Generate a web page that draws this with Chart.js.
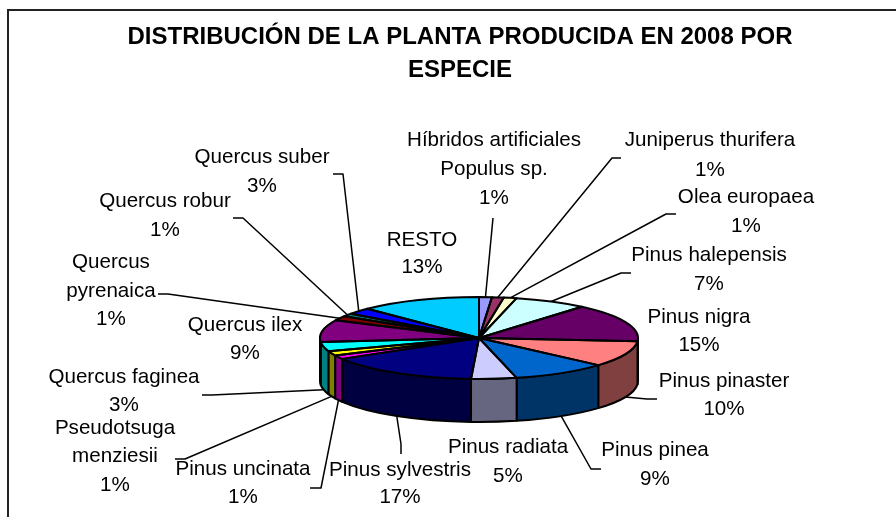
<!DOCTYPE html>
<html>
<head>
<meta charset="utf-8">
<title>Distribución de la planta producida en 2008 por especie</title>
<script src="https://cdn.jsdelivr.net/npm/chart.js@4/dist/chart.umd.js"></script>
<style>
    html, body { margin: 0; padding: 0; background: #fff; overflow: hidden; }
    canvas { display: block; }
</style>
</head>
<body>
<canvas id="chart" width="896" height="517"></canvas>
<script>
// Data, clockwise from the top of the pie

const categories = ["Híbridos artificiales Populus sp.", "Juniperus thurifera", "Olea europaea",
    "Pinus halepensis", "Pinus nigra", "Pinus pinaster", "Pinus pinea", "Pinus radiata",
    "Pinus sylvestris", "Pinus uncinata", "Pseudotsuga menziesii", "Quercus faginea",
    "Quercus ilex", "Quercus pyrenaica", "Quercus robur", "Quercus suber", "RESTO"];

// slice sizes as measured on the picture
const values = [1.3, 1.2, 1.3, 7.4, 15.1, 10.2, 9.7, 4.6, 15.7, 1.5, 1.8, 3.6, 8.7, 1.8, 1.2, 2.5, 12.4];

// percentages as printed on the labels
const percentLabels = ["1%", "1%", "1%", "7%", "15%", "10%", "9%", "5%", "17%", "1%", "1%", "3%", "9%", "1%", "1%", "3%", "13%"];

const faceColors = ["#9999FF", "#993366", "#FFFFCC", "#CCFFFF", "#660066", "#FF8080", "#0066CC", "#CCCCFF",
    "#000080", "#FF00FF", "#FFFF00", "#00FFFF", "#800080", "#800000", "#008080", "#0000FF", "#00CCFF"];

const sideColors = ["#4C4C80", "#4C1933", "#808066", "#668080", "#330033", "#804040", "#003366", "#666680",
    "#000040", "#800080", "#808000", "#008080", "#400040", "#400000", "#004040", "#000080", "#006680"];

const titleLines = ["DISTRIBUCIÓN DE LA PLANTA PRODUCIDA EN 2008 POR", "ESPECIE"];

// Layout of the labels: wrapped text, centre x, y of each line, leader line from the label side
const labelLayout = [
    { lines: ["Híbridos artificiales", "Populus sp."], x: 494, y: [140, 169, 198], leader: [[493, 218]] },
    { lines: ["Juniperus thurifera"], x: 710, y: [140, 170], leader: [[621, 158], [612, 158]] },
    { lines: ["Olea europaea"], x: 746, y: [197, 226], leader: [[676, 214], [666, 214]] },
    { lines: ["Pinus halepensis"], x: 709, y: [255, 284], leader: [[631, 273], [621, 273]] },
    { lines: ["Pinus nigra"], x: 699, y: [317, 345], leader: [] },
    { lines: ["Pinus pinaster"], x: 724, y: [381, 409], leader: [[657, 399], [647, 399]] },
    { lines: ["Pinus pinea"], x: 655, y: [450, 479], leader: [[601, 469], [591, 469]] },
    { lines: ["Pinus radiata"], x: 508, y: [447, 476], leader: [] },
    { lines: ["Pinus sylvestris"], x: 400, y: [470, 497], leader: [[401, 454], [401, 444]] },
    { lines: ["Pinus uncinata"], x: 243, y: [469, 497], leader: [[310, 488], [321, 488]] },
    { lines: ["Pseudotsuga", "menziesii"], x: 115, y: [428, 456, 485], leader: [[175, 459], [185, 459]] },
    { lines: ["Quercus faginea"], x: 124, y: [377, 405], leader: [[202, 395], [212, 395]] },
    { lines: ["Quercus ilex"], x: 245, y: [325, 353], leader: [] },
    { lines: ["Quercus", "pyrenaica"], x: 111, y: [262, 291, 319], leader: [[158, 294], [168, 294]] },
    { lines: ["Quercus robur"], x: 165, y: [201, 230], leader: [[233, 218], [243, 218]] },
    { lines: ["Quercus suber"], x: 262, y: [157, 186], leader: [[333, 174], [343, 174]] },
    { lines: ["RESTO"], x: 422, y: [240, 267], leader: [] }
];

const pieBox = { cx: 479, cy: 338, rx: 159, ry: 41, depth: 43 };
const OUTLINE = "#000";

// Draws the library's pie squashed into an ellipse, with walls, outlines, leaders and labels
const pie3d = {
    id: 'pie3d',

    afterLayout(chart) {
        // the title sits a little right of the canvas centre
        chart.titleBlock.right = 920;
    },

    beforeDraw(chart) {
        let ctx = chart.ctx;
        ctx.save();
        ctx.strokeStyle = "#222";
        ctx.lineWidth = 2;
        ctx.beginPath();
        ctx.moveTo(8, 517);
        ctx.lineTo(8, 10);
        ctx.lineTo(896, 10);
        ctx.stroke();
        ctx.restore();
    },

    beforeDatasetsDraw(chart) {
        let ctx = chart.ctx;
        let arcs = chart.getDatasetMeta(0).data;

        // walls, only the front half of the rim shows
        ctx.save();
        ctx.strokeStyle = OUTLINE;
        ctx.lineWidth = 2;
        ctx.lineJoin = 'round';
        arcs.forEach(function(arc, i) {
            let a = Math.max(arc.startAngle, 0);
            let b = Math.min(arc.endAngle, Math.PI);
            if (b <= a) {
                return;
            }
            ctx.beginPath();
            ctx.ellipse(pieBox.cx, pieBox.cy, pieBox.rx, pieBox.ry, 0, a, b);
            ctx.ellipse(pieBox.cx, pieBox.cy + pieBox.depth, pieBox.rx, pieBox.ry, 0, b, a, true);
            ctx.closePath();
            ctx.fillStyle = sideColors[i];
            ctx.fill();
            ctx.stroke();
        });
        ctx.restore();

        // the top face is the normal chart.js pie under a transform
        let first = arcs[0];
        let r = first.outerRadius;
        ctx.save();
        ctx.translate(pieBox.cx, pieBox.cy);
        ctx.scale(pieBox.rx / r, pieBox.ry / r);
        ctx.translate(-first.x, -first.y);
    },

    afterDatasetsDraw(chart) {
        let ctx = chart.ctx;
        ctx.restore();

        let arcs = chart.getDatasetMeta(0).data;

        // outlines of the top face
        ctx.save();
        ctx.strokeStyle = OUTLINE;
        ctx.lineWidth = 2;
        ctx.lineJoin = 'round';
        arcs.forEach(function(arc) {
            ctx.beginPath();
            ctx.moveTo(pieBox.cx, pieBox.cy);
            ctx.ellipse(pieBox.cx, pieBox.cy, pieBox.rx, pieBox.ry, 0, arc.startAngle, arc.endAngle);
            ctx.closePath();
            ctx.stroke();
        });

        // leader lines, ending on the rim at the middle of the slice
        ctx.lineWidth = 1.5;
        labelLayout.forEach(function(label, i) {
            if (!label.leader.length) {
                return;
            }
            let mid = (arcs[i].startAngle + arcs[i].endAngle) / 2;
            let endX = pieBox.cx + pieBox.rx * Math.cos(mid);
            let endY = pieBox.cy + pieBox.ry * Math.sin(mid);
            if (Math.sin(mid) > 0) {
                endY += pieBox.depth;
            }
            ctx.beginPath();
            label.leader.forEach(function(p, k) {
                if (k === 0) {
                    ctx.moveTo(p[0], p[1]);
                } else {
                    ctx.lineTo(p[0], p[1]);
                }
            });
            ctx.lineTo(endX, endY);
            ctx.stroke();
        });

        // labels
        ctx.fillStyle = "#000";
        ctx.font = "20.6px 'Liberation Sans', Arial, sans-serif";
        ctx.textAlign = 'center';
        ctx.textBaseline = 'middle';
        labelLayout.forEach(function(label, i) {
            let rows = label.lines.concat([percentLabels[i]]);
            rows.forEach(function(text, k) {
                ctx.fillText(text, label.x, label.y[k]);
            });
        });
        ctx.restore();
    }
};

document.addEventListener('DOMContentLoaded', function() {
    let chartDom = document.getElementById('chart').getContext('2d');
    new Chart(chartDom, {
        type: 'pie',
        data: {
            labels: categories,
            datasets: [{
                data: values,
                backgroundColor: faceColors,
                borderWidth: 0
            }]
        },
        options: {
            responsive: false,
            animation: false,
            events: [],
            layout: { padding: { top: 0, bottom: 10 } },
            plugins: {
                legend: { display: false },
                tooltip: { enabled: false },
                title: {
                    display: true,
                    text: titleLines,
                    color: "#000",
                    font: { family: "'Liberation Sans', Arial, sans-serif", size: 24, weight: 'bold', lineHeight: 1.375 },
                    padding: { top: 21, bottom: 10 }
                }
            }
        },
        plugins: [pie3d]
    });
});
</script>
</body>
</html>
